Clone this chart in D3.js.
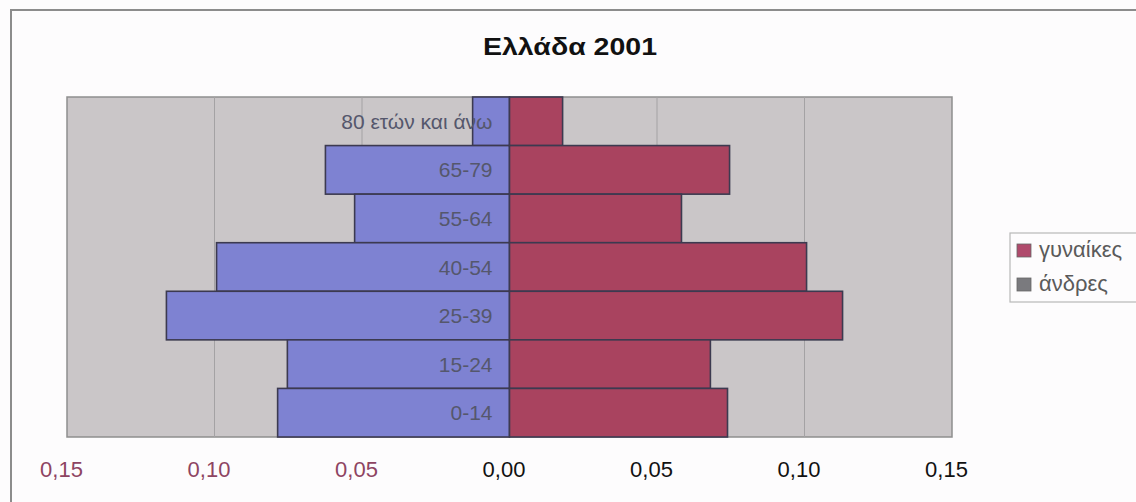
<!DOCTYPE html>
<html>
<head>
<meta charset="utf-8">
<script src="https://cdn.jsdelivr.net/npm/d3@7"></script>
<style>
  body { margin: 0; background: #fdfcfd; }
  svg { display: block; font-family: Arial, "Liberation Sans", sans-serif; }
</style>
</head>
<body>
<svg id="chart" width="1136" height="502"></svg>
<script>
// age groups, top to bottom
var ageGroups = ["80 ετών και άνω", "65-79", "55-64", "40-54", "25-39", "15-24", "0-14"];
// share of population (left side = men, right side = women)
var men   = [0.0125, 0.0624, 0.0525, 0.0993, 0.1163, 0.0753, 0.0786];
var women = [0.0180, 0.0746, 0.0583, 0.1007, 0.1129, 0.0681, 0.0739];
var tickValues = [-0.15, -0.10, -0.05, 0, 0.05, 0.10, 0.15];
var seriesNames = ["γυναίκες", "άνδρες"];

var svg = d3.select("#chart");

var xScale = d3.scaleLinear().domain([-0.15, 0.15]).range([67, 952]);
var yScale = d3.scaleBand().domain(ageGroups).range([97, 437]).padding(0);

var rows = ageGroups.map(function (g, i) {
    return {group: g, men: men[i], women: women[i]};
});

// outer frame of the chart object
svg.append("path")
    .attr("d", "M11,502 L11,10 L1136,10")
    .attr("fill", "none")
    .attr("stroke", "#8c8c8c")
    .attr("stroke-width", 2);

// title
svg.append("text")
    .attr("x", 570)
    .attr("y", 55)
    .attr("text-anchor", "middle")
    .attr("font-size", 24)
    .attr("font-weight", "bold")
    .attr("textLength", 174)
    .attr("lengthAdjust", "spacingAndGlyphs")
    .attr("fill", "#111")
    .text("Ελλάδα 2001");

// plot area
svg.append("rect")
    .attr("x", xScale(-0.15))
    .attr("y", 97)
    .attr("width", xScale(0.15) - xScale(-0.15))
    .attr("height", 340)
    .attr("fill", "#cac6c8")
    .attr("stroke", "#8e8e8e")
    .attr("stroke-width", 1.5);

svg.append("g").selectAll("line")
    .data(tickValues.filter(function (t) { return Math.abs(t) < 0.15 && t !== 0; }))
    .enter().append("line")
    .attr("x1", function (d) { return xScale(d); })
    .attr("x2", function (d) { return xScale(d); })
    .attr("y1", 97)
    .attr("y2", 437)
    .attr("stroke", "#a4a2a4")
    .attr("stroke-width", 1);

var barsG = svg.append("g").attr("stroke", "#3c3a50").attr("stroke-width", 1.6);

barsG.selectAll(".men")
    .data(rows)
    .enter().append("rect")
    .attr("class", "men")
    .attr("x", function (d) { return xScale(-d.men); })
    .attr("y", function (d) { return yScale(d.group); })
    .attr("width", function (d) { return xScale(0) - xScale(-d.men); })
    .attr("height", yScale.bandwidth())
    .attr("fill", "#7e82d2");

barsG.selectAll(".women")
    .data(rows)
    .enter().append("rect")
    .attr("class", "women")
    .attr("x", xScale(0))
    .attr("y", function (d) { return yScale(d.group); })
    .attr("width", function (d) { return xScale(d.women) - xScale(0); })
    .attr("height", yScale.bandwidth())
    .attr("fill", "#a9435f");

// age labels sit just left of the zero line
svg.append("g").selectAll("text")
    .data(rows)
    .enter().append("text")
    .attr("x", xScale(0) - 17)
    .attr("y", function (d) { return yScale(d.group) + yScale.bandwidth() / 2; })
    .attr("dy", "0.36em")
    .attr("text-anchor", "end")
    .attr("font-size", 21)
    .attr("fill", "#55576c")
    .text(function (d) { return d.group; });

// x axis, absolute values with comma decimals
var xAxis = d3.axisBottom(xScale)
    .tickValues(tickValues)
    .tickSize(0)
    .tickPadding(0)
    .tickFormat(function (d) { return d3.format(".2f")(Math.abs(d)).replace(".", ","); });

var axisG = svg.append("g")
    .attr("transform", "translate(-6,461)")
    .call(xAxis);
axisG.select(".domain").remove();
axisG.selectAll("text")
    .attr("font-size", 22)
    .attr("font-family", "Arial, 'Liberation Sans', sans-serif")
    .attr("fill", function (d) { return d < 0 ? "#8e4462" : "#111"; });

// legend
var legend = svg.append("g");
legend.append("rect")
    .attr("x", 1010)
    .attr("y", 233)
    .attr("width", 130)
    .attr("height", 69)
    .attr("fill", "#fdfcfd")
    .attr("stroke", "#b8b8b8")
    .attr("stroke-width", 1.2);

var swatchColors = ["#b04a6c", "#7a7a7e"];
var items = legend.selectAll(".item")
    .data(seriesNames)
    .enter().append("g")
    .attr("transform", function (d, i) { return "translate(1017," + (250 + i * 34) + ")"; });
items.append("rect")
    .attr("x", 0)
    .attr("y", -6)
    .attr("width", 14)
    .attr("height", 13)
    .attr("fill", function (d, i) { return swatchColors[i]; })
    .attr("stroke", "#666")
    .attr("stroke-width", 0.8);
items.append("text")
    .attr("x", 22)
    .attr("y", 0)
    .attr("dy", "0.33em")
    .attr("font-size", 22)
    .attr("fill", "#5a5a5a")
    .text(function (d) { return d; });
</script>
</body>
</html>
